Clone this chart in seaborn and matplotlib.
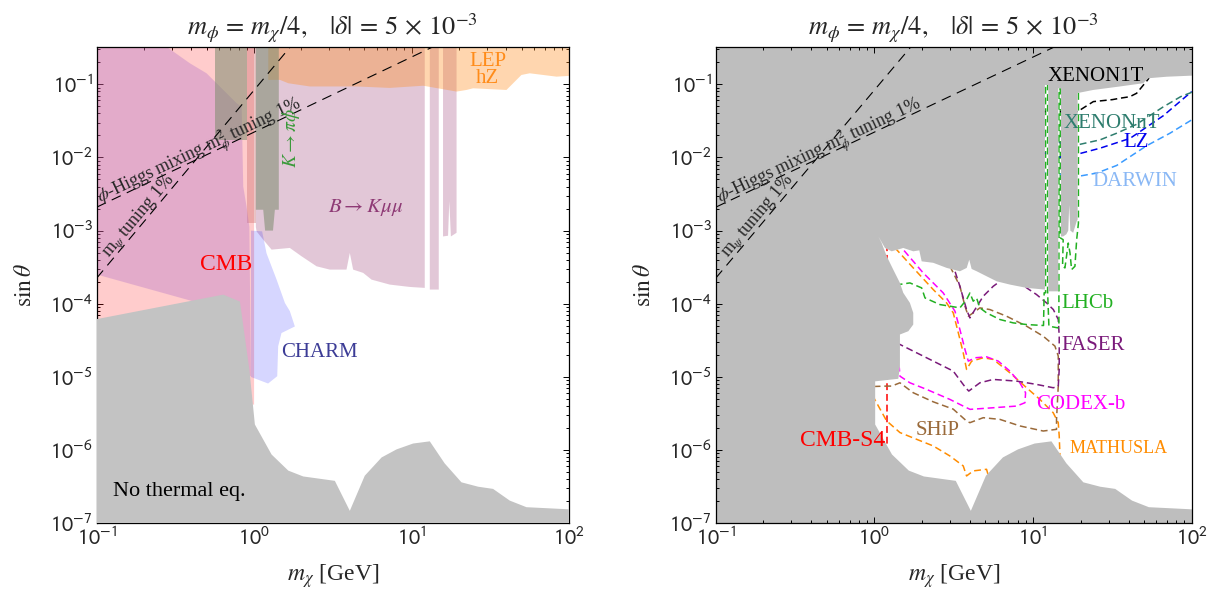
import numpy as np
import matplotlib
matplotlib.use("Agg")
import matplotlib.pyplot as plt
import seaborn as sns
from matplotlib.ticker import LogLocator, FuncFormatter, NullFormatter

# ------------------------------------------------------------------
# data, in log10 units:
#   *_lm = log10(m_chi / GeV),  *_ls = log10(sin theta)
# ------------------------------------------------------------------
# no thermal equilibrium (grey, both panels)
noeq_lm = [-1.2, -1.0, -0.196, -0.09, -0.03, 0.005, 0.111, 0.217, 0.312, 0.513, 0.608, 0.703,
           0.81, 0.905, 1.01, 1.116, 1.21, 1.317, 1.423, 1.518, 1.624, 1.73, 2.1]
noeq_ls = [-4.25, -4.21, -3.875, -3.97, -4.9, -5.65, -6.06, -6.28, -6.36, -6.42, -6.83, -6.35,
           -6.10, -5.99, -5.91, -5.88, -6.18, -6.44, -6.50, -6.53, -6.69, -6.78, -6.82]

# CMB (left)
cmb_lm = [-1.2, 0.0, 0.0, -0.3, -1.2]
cmb_ls = [-0.3, -0.3, -5.38, -5.2, -4.6]
cmb_core_lm = [-0.048, 0.011, 0.011, -0.048]
cmb_core_ls = [-0.3, -0.3, -2.9, -2.9]

# lilac region left of 1 GeV
lilac_lm = [-1.2, -0.68, -0.408, -0.302, -0.111, -0.079, -0.069, -0.048, -0.03, -0.02, -0.09, -0.365, -1.2]
lilac_ls = [-0.3, -0.3, -0.713, -0.85, -1.259, -1.306, -2.397, -2.67, -2.95, -4.99, -4.9, -3.98, -3.48]

# B -> K mu mu
bkmm_lm = [0.011, 0.011, 0.016, 0.058, 0.111, 0.227, 0.302, 0.397, 0.481, 0.587, 0.608, 0.629,
           0.693, 0.746, 0.862, 0.989, 1.084, 1.084, 1.116, 1.116, 1.173, 1.173, 1.2, 1.2,
           1.232, 1.24, 1.25, 1.286, 1.286]
bkmm_ls = [-0.3, -2.95, -3.011, -3.124, -3.26, -3.237, -3.352, -3.488, -3.533, -3.533, -3.306, -3.533,
           -3.578, -3.67, -3.738, -3.77, -3.783, -0.3, -0.3, -3.806, -3.806, -0.3, -0.3, -3.08,
           -3.07, -2.6, -3.08, -3.03, -0.3]

# K -> pi phi
kpi1_lm = [-0.249, -0.048, -0.048, -0.249]
kpi1_ls = [-0.3, -0.3, -1.76, -1.76]
kpi2_lm = [0.011, 0.157, 0.157, 0.132, 0.12, 0.07, 0.058, 0.011]
kpi2_ls = [-0.3, -0.3, -2.715, -2.715, -3.0, -3.0, -2.715, -2.715]

# CHARM
charm_lm = [-0.02, 0.051, 0.079, 0.143, 0.196, 0.227, 0.259, 0.174, 0.153, 0.147, 0.089, 0.016, -0.02]
charm_ls = [-3.0, -3.01, -3.31, -3.67, -3.99, -4.10, -4.31, -4.40, -4.58, -4.99, -5.09, -5.03, -5.0]

# LEP hZ
lep_lm = [0.09, 0.09, 0.164, 0.217, 0.354, 0.651, 0.862, 1.074, 1.286, 1.349, 1.391, 1.603,
          1.698, 1.751, 1.921, 2.1, 2.1]
lep_ls = [-0.3, -0.94, -0.94, -0.986, -1.03, -1.03, -1.05, -1.02, -1.1, -1.078, -1.055, -1.078,
          -0.873, -0.85, -0.896, -0.873, -0.3]

# tuning lines
mix_lm = [-1.0, 2.0]
mix_ls = [-2.68, 0.398]
psi_lm = [-1.0, 0.5]
psi_ls = [-3.65, 0.205]

# allowed (white) region, right panel: upper edge, then lower edge follows noeq
allowed_lm = [0.005, 0.005, 0.151, 0.161, 0.161, 0.214, 0.245, 0.245, 0.224, 0.182, 0.161, 0.119,
              0.078, 0.046, 0.025, 0.067, 0.109, 0.161, 0.182, 0.245, 0.283, 0.298, 0.371, 0.456,
              0.539, 0.582, 0.598, 0.613, 0.645, 0.708, 0.771, 0.855, 0.96, 1.075, 1.075, 1.096,
              1.096, 1.159, 1.159, 1.176, 1.176, 1.19, 1.21, 1.222, 1.228, 1.235, 1.253, 1.275,
              1.281, 1.281, 1.379, 1.548, 1.694, 1.726, 1.842, 2.1]
allowed_ls = [-5.66, -5.06, -5.025, -4.853, -4.42, -4.375, -4.284, -4.124, -3.988, -3.85, -3.715, -3.533,
              -3.352, -3.17, -3.08, -3.238, -3.283, -3.251, -3.237, -3.283, -3.27, -3.42, -3.44, -3.51,
              -3.556, -3.51, -3.397, -3.524, -3.556, -3.625, -3.693, -3.738, -3.783, -3.806, -1.01, -1.01,
              -3.83, -3.83, -1.055, -1.055, -3.08, -3.08, -3.05, -3.0, -2.65, -3.0, -3.03, -2.874,
              -2.85, -1.12, -1.078, -1.03, -0.986, -0.918, -0.897, -0.873]

# projections (right panel)
mathusla_lm = [0.10, 0.140, 0.245, 0.371, 0.455, 0.497, 0.529, 0.56, 0.581, 0.613, 0.686, 0.75,
               0.854, 0.959, 1.043, 1.127, 1.159, 1.165, 1.169, 1.17, 0.75, 0.707, 0.623, 0.581,
               0.56, 0.476, 0.371, 0.266, 0.161, 0.077, 0.008, -0.05]
mathusla_ls = [-3.1, -3.26, -3.51, -3.806, -3.988, -4.124, -4.397, -4.67, -4.897, -4.784, -4.738, -4.761,
               -4.943, -5.147, -5.307, -5.489, -5.625, -5.807, -6.034, -6.6, -6.6, -6.262, -6.284, -6.353,
               -6.216, -6.08, -5.943, -5.852, -5.76, -5.6, -5.33, -5.1]
codex_lm = [0.10, 0.182, 0.308, 0.434, 0.508, 0.539, 0.571, 0.592, 0.634, 0.707, 0.781, 0.854,
            0.917, 0.953, 0.949, 0.897, 0.749, 0.603, 0.56, 0.476, 0.329, 0.224, 0.161, 0.157, 0.10]
codex_ls = [-3.05, -3.26, -3.579, -3.852, -4.102, -4.352, -4.625, -4.784, -4.738, -4.725, -4.784, -4.92,
            -5.08, -5.216, -5.352, -5.398, -5.421, -5.443, -5.398, -5.307, -5.17, -5.08, -4.989, -4.875, -4.7]
faser_lm = [0.45, 0.508, 0.539, 0.581, 0.602, 0.634, 0.686, 0.749, 0.85, 0.96, 1.022, 1.085, 1.128,
            1.159, 1.165, 1.165, 1.159, 1.128, 1.022, 0.897, 0.749, 0.665, 0.595, 0.575, 0.497, 0.329,
            0.161, 0.10]
faser_ls = [-3.3, -3.556, -3.761, -4.079, -4.193, -4.079, -3.897, -3.761, -3.6, -3.783, -3.874, -3.988,
            -4.079, -4.215, -4.443, -4.897, -5.125, -5.148, -5.102, -5.057, -5.034, -5.08, -5.193, -5.147,
            -4.92, -4.738, -4.556, -4.5]
ship_lm = [0.45, 0.487, 0.539, 0.571, 0.592, 0.623, 0.665, 0.728, 0.833, 0.959, 1.064, 1.138, 1.159,
           1.159, 1.148, 1.148, 1.064, 0.918, 0.791, 0.686, 0.602, 0.581, 0.497, 0.371, 0.245, 0.161,
           0.109, 0.077, 0.0]
ship_ls = [-3.35, -3.533, -3.76, -4.033, -4.17, -4.124, -4.056, -4.079, -4.17, -4.306, -4.443, -4.579,
           -4.715, -5.125, -5.58, -5.716, -5.739, -5.67, -5.58, -5.557, -5.625, -5.602, -5.44, -5.34,
           -5.216, -5.08, -5.125, -5.125, -5.13]
lhcb_lm = [0.0, 0.151, 0.224, 0.298, 0.319, 0.413, 0.476, 0.539, 0.581, 0.602, 0.623, 0.644, 0.665,
           0.707, 0.791, 0.875, 0.96, 1.066, 1.07, 1.079, 1.079, 1.092, 1.092, 1.1, 1.158, 1.163,
           1.163, 1.172, 1.172, 1.19, 1.186, 1.201, 1.211, 1.222, 1.233, 1.243, 1.264, 1.275, 1.286,
           1.286, 1.3]
lhcb_ls = [-3.70, -3.738, -3.715, -3.783, -3.92, -4.011, -4.033, -4.056, -3.943, -3.852, -3.965, -3.92,
           -4.056, -4.124, -4.215, -4.261, -4.284, -4.297, -3.85, -3.85, -1.0, -1.0, -3.85, -4.306,
           -4.33, -4.3, -1.06, -1.06, -3.1, -3.124, -3.488, -3.51, -3.35, -3.17, -3.306, -3.533,
           -3.488, -3.124, -2.9, -1.12, -0.6]
cmbs4_lm = [0.08, 0.08]
cmbs4_ls = [-6.2, -3.0]
xenon1t_lm = [0.9, 1.281, 1.38, 1.50, 1.548, 1.61, 1.653, 1.726, 1.80]
xenon1t_ls = [-1.373, -1.373, -1.237, -1.21, -1.191, -1.17, -1.123, -0.93, -0.6]
xenonnt_lm = [0.9, 1.085, 1.176, 1.281, 1.422, 1.527, 1.65, 1.82, 1.93, 2.0]
xenonnt_ls = [-1.70, -1.714, -1.805, -1.828, -1.76, -1.669, -1.55, -1.31, -1.17, -1.11]
lz_lm = [0.9, 1.085, 1.176, 1.281, 1.422, 1.611, 1.821, 1.989, 2.0]
lz_ls = [-1.93, -1.942, -1.996, -1.955, -1.874, -1.74, -1.43, -1.12, -1.10]
darwin_lm = [0.9, 1.085, 1.281, 1.401, 1.527, 1.716, 1.863, 2.0]
darwin_ls = [-2.19, -2.206, -2.26, -2.214, -2.11, -1.84, -1.669, -1.487]

# ------------------------------------------------------------------
sns.set_theme(style="ticks")
plt.rcParams['font.family'] = ['Liberation Serif', 'DejaVu Serif']
plt.rcParams['mathtext.fontset'] = 'stix'
plt.rcParams['axes.linewidth'] = 0.9

YTOP = 10 ** -0.487


def P(v):
    return 10 ** np.asarray(v, dtype=float)


def area(ax, lm, ls, **kw):
    return ax.fill(P(lm), P(ls), lw=0, **kw)[0]


def curve(ax, lm, ls, color, dash=(4.5, 2.5), lw=1.1, clip=None, z=3):
    sns.lineplot(x=P(lm), y=P(ls), sort=False, estimator=None, color=color, lw=lw, ax=ax)
    ln = ax.lines[-1]
    ln.set_linestyle((0, dash))
    ln.set_zorder(z)
    if clip is not None:
        ln.set_clip_path(clip)
    return ln


def style_axes(ax):
    ax.set_xscale('log')
    ax.set_yscale('log')
    ax.set_xlim(0.1, 100)
    ax.set_ylim(1e-7, YTOP)
    fmt = FuncFormatter(lambda v, _: r"$10^{%d}$" % int(round(np.log10(v))))
    for a in (ax.xaxis, ax.yaxis):
        a.set_major_locator(LogLocator(base=10, numticks=20))
        a.set_minor_locator(LogLocator(base=10, subs=np.arange(2, 10), numticks=20))
        a.set_major_formatter(fmt)
        a.set_minor_formatter(NullFormatter())
    ax.tick_params(which='both', direction='in', top=True, right=True, color='black', width=0.7)
    ax.tick_params(which='major', length=4.5, labelsize=16, pad=3)
    ax.tick_params(which='minor', length=2.3)
    ax.set_xlabel(r"$m_\chi$ [GeV]", fontsize=17, labelpad=9)
    ax.set_ylabel(r"$\sin\theta$", fontsize=17, labelpad=10)
    ax.set_title(r"$m_\phi\,=\,m_\chi/4,\ \ \ |\delta|\,=\,5\,\times\,10^{-3}$", fontsize=19, pad=8)
    for s in ax.spines.values():
        s.set_color('black')


def sans_ticks(ax):
    for lbl in ax.get_xticklabels() + ax.get_yticklabels():
        lbl.set_math_fontfamily('stixsans')


def tuning_lines(ax):
    curve(ax, mix_lm, mix_ls, 'black', dash=(9, 6), lw=0.8, z=6)
    curve(ax, psi_lm, psi_ls, 'black', dash=(9, 6), lw=0.8, z=6)
    ax.text(P(-0.343), P(-1.93), r"$\phi$-Higgs mixing m$_\phi^2$ tuning 1%", rotation=25.3,
            ha='center', va='center', fontsize=13, zorder=7, rotation_mode='anchor')
    ax.text(P(-0.73), P(-2.80), r"m$_\psi$ tuning 1%", rotation=50,
            ha='center', va='center', fontsize=13, zorder=7, rotation_mode='anchor')


fig = plt.figure(figsize=(12.22, 5.96), dpi=100)
axL = fig.add_axes([0.0791, 0.1220, 0.3865, 0.7996])
axR = fig.add_axes([0.5857, 0.1220, 0.3895, 0.7996])
for ax in (axL, axR):
    style_axes(ax)

# ---------------- left panel ----------------
area(axL, cmb_lm, cmb_ls, color='red', alpha=0.2, zorder=1)
area(axL, cmb_core_lm, cmb_core_ls, color='#c86464', alpha=0.35, zorder=1)
area(axL, lilac_lm, lilac_ls, color='#b070c8', alpha=0.35, zorder=1)
area(axL, bkmm_lm, bkmm_ls, color='#8f2363', alpha=0.25, zorder=1)
area(axL, charm_lm, charm_ls, color='#0000ff', alpha=0.16, zorder=1)
area(axL, lep_lm, lep_ls, color='#ff8c1a', alpha=0.35, zorder=2)
area(axL, kpi1_lm, kpi1_ls, color='#7d8c6e', alpha=0.55, zorder=2)
area(axL, kpi2_lm, kpi2_ls, color='#7d8c6e', alpha=0.55, zorder=2)
area(axL, noeq_lm + [2.1, -1.2], noeq_ls + [-8, -8], color='#c3c3c3', zorder=3)
tuning_lines(axL)

axL.text(P(-0.179), P(-3.46), "CMB", color='red', fontsize=17, ha='center', va='center', zorder=8)
axL.text(P(0.418), P(-4.666), "CHARM", color='#3c3c96', fontsize=15, ha='center', va='center', zorder=8)
axL.text(P(-0.896), P(-6.57), "No thermal eq.", color='black', fontsize=16, ha='left', va='center', zorder=8)
axL.text(P(0.71), P(-2.68), r"$B\to K\mu\mu$", color='#8e3a75', fontsize=15, ha='center', va='center', zorder=8)
axL.text(P(0.235), P(-1.73), r"$K\to\pi\phi$", color='#3a9a3a', fontsize=14, rotation=90,
         ha='center', va='center', zorder=8)
axL.text(P(1.485), P(-0.80), "LEP\nhZ", color='#ff8c1a', fontsize=15, ha='center', va='center',
         linespacing=0.85, zorder=8)

# ---------------- right panel ----------------
axR.set_facecolor('#bebebe')
low_lm = noeq_lm[5:][::-1]
low_ls = noeq_ls[5:][::-1]
allowed = area(axR, allowed_lm + low_lm, allowed_ls + low_ls, color='white', zorder=1)

proj = [
    (cmbs4_lm, cmbs4_ls, 'red'),
    (mathusla_lm, mathusla_ls, '#ff8c00'),
    (ship_lm, ship_ls, '#9a6a3a'),
    (codex_lm, codex_ls, '#ff00ff'),
    (faser_lm, faser_ls, '#7a1a7a'),
    (lhcb_lm, lhcb_ls, '#22b022'),
    (darwin_lm, darwin_ls, '#3a9bff'),
    (lz_lm, lz_ls, '#0000ee'),
    (xenonnt_lm, xenonnt_ls, '#2e7d6e'),
    (xenon1t_lm, xenon1t_ls, 'black'),
]
for lm, ls, c in proj:
    curve(axR, lm, ls, c, clip=allowed)
tuning_lines(axR)

labels = [
    ("XENON1T", 1.397, -0.90, 'black', 15),
    ("XENONnT", 1.497, -1.535, '#2e7d6e', 15),
    ("LZ", 1.65, -1.80, '#0000ee', 15),
    ("DARWIN", 1.643, -2.33, '#8ab8f5', 15),
    ("LHCb", 1.343, -3.99, '#22b022', 15),
    ("FASER", 1.378, -4.577, '#7a1a7a', 15),
    ("CODEX-b", 1.299, -5.375, '#ff00ff', 15),
    ("SHiP", 0.398, -5.737, '#9a6a3a', 15),
    ("CMB-S4", -0.201, -5.866, 'red', 17),
    ("MATHUSLA", 1.542, -5.976, '#ff8c00', 13),
]
for t, lx, ly, c, fs in labels:
    axR.text(P(lx), P(ly), t, color=c, fontsize=fs, ha='center', va='center', zorder=8)

for ax in (axL, axR):
    sans_ticks(ax)

fig.savefig("out.png", dpi=100)
